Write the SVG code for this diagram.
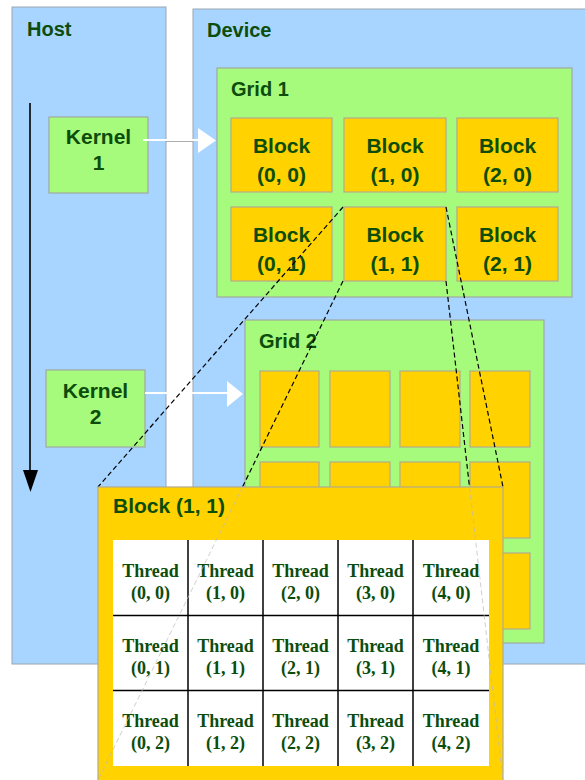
<svg xmlns="http://www.w3.org/2000/svg" width="585" height="780" viewBox="0 0 585 780">
<style>
.blue{fill:#a8d5ff;stroke:#9aa6b2;stroke-width:1}
.green{fill:#a6fa7c;stroke:#a0aaa0;stroke-width:1.2}
.yel{fill:#ffd200;stroke:#b4aa8c;stroke-width:1.2}
.t{font-family:"Liberation Sans",Arial,sans-serif;font-weight:bold;font-size:20px;fill:#0c4d0c}
.tc{font-family:"Liberation Sans",Arial,sans-serif;font-weight:bold;font-size:21px;fill:#0c4d0c;text-anchor:middle}
.th{font-family:"Liberation Serif","Times New Roman",serif;font-weight:bold;font-size:18px;fill:#0c4d0c;text-anchor:middle}
.dash{stroke:#000;stroke-width:1.2;stroke-dasharray:5 3;fill:none}
.faint{stroke:#ffffff;stroke-opacity:0.55;stroke-width:1;stroke-dasharray:5 3;fill:none}
.grid{stroke:#000;stroke-width:1.5}
</style>
<rect width="585" height="780" fill="#fff"/>
<g id="host">
<rect class="blue" x="12" y="7" width="154" height="657"/>
<text class="t" x="27" y="36">Host</text>
</g>
<g id="device">
<rect class="blue" x="193" y="9" width="400" height="655"/>
<text class="t" x="207" y="37">Device</text>
</g>
<g id="grid1">
<rect class="green" x="217" y="68" width="355" height="229"/>
<text class="t" x="231" y="96">Grid 1</text>
</g>
<g id="block00"><rect class="yel" x="231" y="118" width="101" height="74"/><text class="tc" x="281.5" y="153">Block</text><text class="tc" x="281.5" y="182">(0, 0)</text></g>
<g id="block10"><rect class="yel" x="344" y="118" width="102" height="74"/><text class="tc" x="395" y="153">Block</text><text class="tc" x="395" y="182">(1, 0)</text></g>
<g id="block20"><rect class="yel" x="457" y="118" width="101" height="74"/><text class="tc" x="507.5" y="153">Block</text><text class="tc" x="507.5" y="182">(2, 0)</text></g>
<g id="block01"><rect class="yel" x="231" y="207" width="101" height="74"/><text class="tc" x="281.5" y="242">Block</text><text class="tc" x="281.5" y="271">(0, 1)</text></g>
<g id="block11"><rect class="yel" x="344" y="207" width="102" height="74"/><text class="tc" x="395" y="242">Block</text><text class="tc" x="395" y="271">(1, 1)</text></g>
<g id="block21"><rect class="yel" x="457" y="207" width="101" height="74"/><text class="tc" x="507.5" y="242">Block</text><text class="tc" x="507.5" y="271">(2, 1)</text></g>
<g id="grid2">
<rect class="green" x="245" y="320" width="299" height="323"/>
<text class="t" x="259" y="348">Grid 2</text>
<rect class="yel" x="260" y="371" width="59" height="76"/>
<rect class="yel" x="330" y="371" width="60" height="76"/>
<rect class="yel" x="400" y="371" width="60" height="76"/>
<rect class="yel" x="470" y="371" width="60" height="76"/>
<rect class="yel" x="260" y="462" width="59" height="76"/>
<rect class="yel" x="330" y="462" width="60" height="76"/>
<rect class="yel" x="400" y="462" width="60" height="76"/>
<rect class="yel" x="470" y="462" width="60" height="76"/>
<rect class="yel" x="260" y="553" width="59" height="76"/>
<rect class="yel" x="330" y="553" width="60" height="76"/>
<rect class="yel" x="400" y="553" width="60" height="76"/>
<rect class="yel" x="470" y="553" width="60" height="76"/>
</g>
<g id="kernel1">
<rect class="green" x="49" y="117" width="99" height="76"/>
<text class="tc" x="98.5" y="144">Kernel</text>
<text class="tc" x="98.5" y="170">1</text>
</g>
<g id="kernel2">
<rect class="green" x="46" y="370" width="99" height="77"/>
<text class="tc" x="95.5" y="398">Kernel</text>
<text class="tc" x="95.5" y="424">2</text>
</g>
<g id="connectors">
<line x1="30" y1="103" x2="30" y2="474" stroke="#000" stroke-width="1.6"/>
<polygon points="23,470 38,470 30.5,492" fill="#000"/>
<line x1="143" y1="140" x2="200" y2="140" stroke="#fff" stroke-width="2.2"/>
<line x1="166" y1="141.5" x2="193" y2="141.5" stroke="#999" stroke-width="0.8"/>
<polygon points="198,128 216,140.5 198,153" fill="#fff"/>
<line x1="145" y1="393" x2="229" y2="393" stroke="#fff" stroke-width="2.2"/>
<polygon points="227,381 243,394 227,407" fill="#fff"/>
<line class="dash" x1="343" y1="207" x2="98" y2="487"/>
<line class="dash" x1="343" y1="281" x2="242.5" y2="487"/>
<line class="dash" x1="446" y1="207" x2="503" y2="487"/>
<line class="dash" x1="446" y1="281" x2="469.5" y2="487"/>
</g>
<g id="block11big">
<rect class="yel" x="98" y="487" width="405" height="300"/>
<text class="t" x="113" y="513" style="font-size:21px">Block (1, 1)</text>
<rect x="113" y="540" width="376" height="226" fill="#fff"/>
<line class="grid" x1="188" y1="540" x2="188" y2="766"/>
<line class="grid" x1="263" y1="540" x2="263" y2="766"/>
<line class="grid" x1="338" y1="540" x2="338" y2="766"/>
<line class="grid" x1="413" y1="540" x2="413" y2="766"/>
<line class="grid" x1="113" y1="615.5" x2="489" y2="615.5"/>
<line class="grid" x1="113" y1="690.5" x2="489" y2="690.5"/>
<g id="threads">
<text class="th" x="150.5" y="577">Thread</text><text class="th" x="150.5" y="599">(0, 0)</text>
<text class="th" x="225.5" y="577">Thread</text><text class="th" x="225.5" y="599">(1, 0)</text>
<text class="th" x="300.5" y="577">Thread</text><text class="th" x="300.5" y="599">(2, 0)</text>
<text class="th" x="375.5" y="577">Thread</text><text class="th" x="375.5" y="599">(3, 0)</text>
<text class="th" x="451" y="577">Thread</text><text class="th" x="451" y="599">(4, 0)</text>
<text class="th" x="150.5" y="652">Thread</text><text class="th" x="150.5" y="674">(0, 1)</text>
<text class="th" x="225.5" y="652">Thread</text><text class="th" x="225.5" y="674">(1, 1)</text>
<text class="th" x="300.5" y="652">Thread</text><text class="th" x="300.5" y="674">(2, 1)</text>
<text class="th" x="375.5" y="652">Thread</text><text class="th" x="375.5" y="674">(3, 1)</text>
<text class="th" x="451" y="652">Thread</text><text class="th" x="451" y="674">(4, 1)</text>
<text class="th" x="150.5" y="727">Thread</text><text class="th" x="150.5" y="749">(0, 2)</text>
<text class="th" x="225.5" y="727">Thread</text><text class="th" x="225.5" y="749">(1, 2)</text>
<text class="th" x="300.5" y="727">Thread</text><text class="th" x="300.5" y="749">(2, 2)</text>
<text class="th" x="375.5" y="727">Thread</text><text class="th" x="375.5" y="749">(3, 2)</text>
<text class="th" x="451" y="727">Thread</text><text class="th" x="451" y="749">(4, 2)</text>
</g>
</g>
<g id="faint-connectors">
<line class="faint" x1="242.5" y1="487" x2="98" y2="780" style="stroke:#bbb;stroke-opacity:0.7"/>
<line class="faint" x1="469.5" y1="487" x2="503" y2="780" style="stroke:#bbb;stroke-opacity:0.7"/>
</g>
</svg>
